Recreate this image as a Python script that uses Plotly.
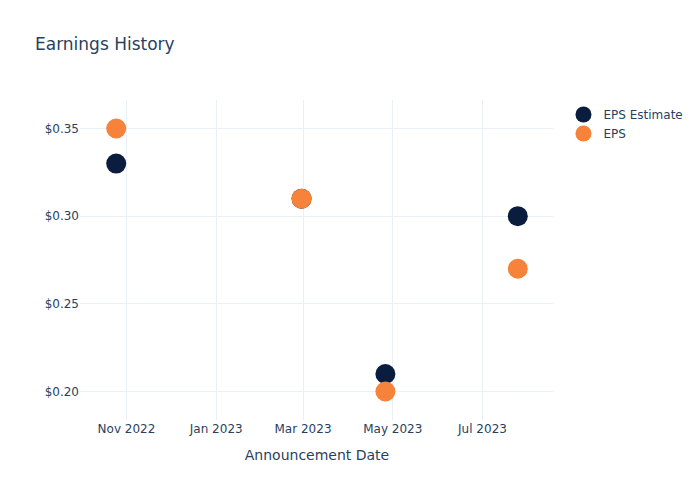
import plotly.graph_objects as go

dates = ["2022-10-25", "2023-02-28", "2023-04-26", "2023-07-25"]
eps_estimate = [0.33, 0.31, 0.21, 0.30]
eps_actual = [0.35, 0.31, 0.20, 0.27]

fig = go.Figure()
fig.add_trace(go.Scatter(x=dates, y=eps_estimate, mode="markers", name="EPS Estimate",
                         marker=dict(color="#0b1d3f", size=20)))
fig.add_trace(go.Scatter(x=dates, y=eps_actual, mode="markers", name="EPS",
                         marker=dict(color="#f7823a", size=20)))
fig.update_layout(
    template="plotly_white",
    width=700, height=500,
    font=dict(family="DejaVu Sans"),
    title=dict(text="Earnings History"),
    xaxis=dict(title=dict(text="Announcement Date"), dtick="M2", tickformat="%b %Y"),
    yaxis=dict(tickprefix="$", tickformat=".2f", dtick=0.05),
)
fig.write_html("out.html")
